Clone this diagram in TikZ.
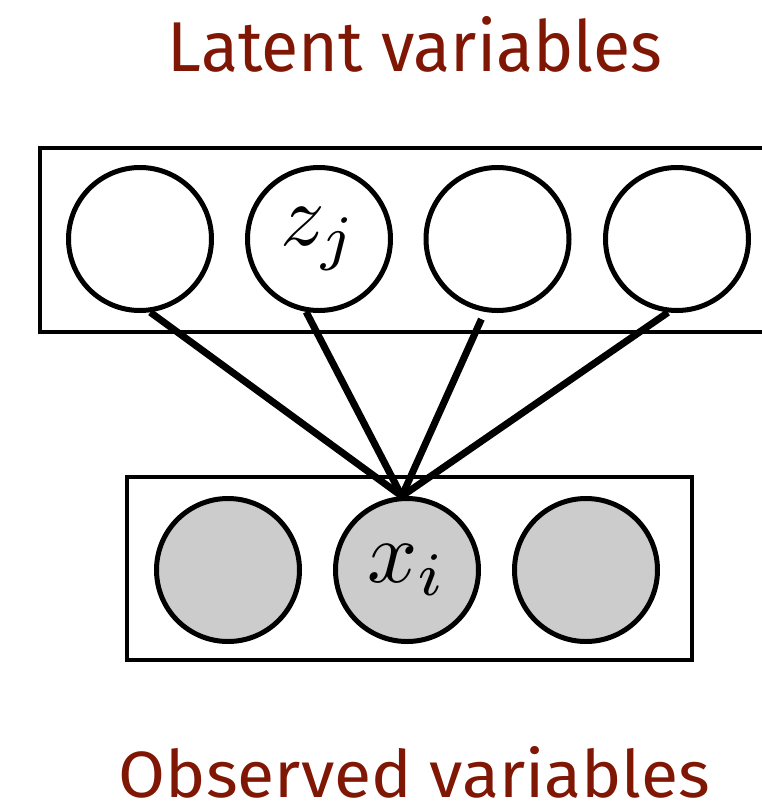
\documentclass[tikz,border=0pt]{standalone}
\usepackage{fontspec}
\usepackage{graphicx}
\newfontfamily\titlefont{Fira Sans}
\definecolor{titlered}{RGB}{128,22,4}
\definecolor{obsgray}{RGB}{204,204,204}
\begin{document}
\begin{tikzpicture}[x=1pt,y=-1pt,
  latent/.style={circle,draw=black,line width=5pt,fill=white,minimum size=143pt,inner sep=0pt},
  observed/.style={circle,draw=black,line width=5pt,fill=obsgray,minimum size=143pt,inner sep=0pt},
  plate/.style={draw=black,line width=4.5pt},
  edge/.style={draw=black,line width=7pt,line cap=butt},
  title/.style={text=titlered,anchor=base,inner sep=0pt}]
\useasboundingbox (0,0) rectangle (762,807);
\clip (0,0) rectangle (762,807);
% titles
\node[title] (tl) at (415,71) {\resizebox{494pt}{55pt}{\titlefont Latent variables}};
\node[title] (to) at (414.5,797) {\resizebox{591pt}{51pt}{\titlefont Observed variables}};
% plates
\draw[plate] (40,148) rectangle (790,332);
\draw[plate] (127,477) rectangle (692,660);
% latent nodes
\node[latent] (c1) at (140,239) {};
\node[latent] (c2) at (319,239) {\raisebox{-6pt}{\scalebox{8.8}{$z_j$}}};
\node[latent] (c3) at (497.5,239) {};
\node[latent] (c4) at (677,239) {};
% observed nodes
\node[observed] (x1) at (228,570) {};
\node[observed] (x2) at (407,570) {\raisebox{-6pt}{\scalebox{8.8}{$x_i$}}};
\node[observed] (x3) at (586,570) {};
% edges
\draw[edge] (c1.-82) -- (x2.94);
\draw[edge] (c2.-100) -- (x2.94);
\draw[edge,shorten <=8pt] (c3.-100) -- (x2.94);
\draw[edge] (c4.-97) -- (x2.94);
\end{tikzpicture}
\end{document}
